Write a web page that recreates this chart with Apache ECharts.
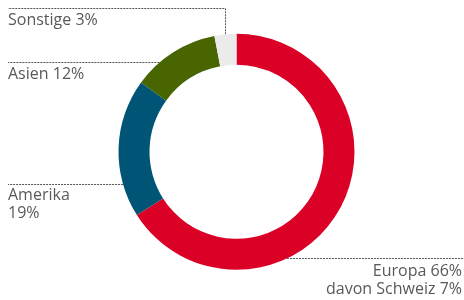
<!DOCTYPE html>
<html>
<head>
<meta charset="utf-8"/>
<title>Umsatz nach Regionen</title>
<script src="https://cdn.jsdelivr.net/npm/echarts@6/dist/echarts.min.js"></script>
<style>
  html, body { margin: 0; padding: 0; background: #fff; }
  #container { width: 464px; height: 300px; }
</style>
</head>
<body>
<div id="container"></div>
<script type="text/javascript">
    // Daten
    var regions = ['Europa', 'Amerika', 'Asien', 'Sonstige'];
    var shares = [66, 19, 12, 3];
    var notes = ['davon Schweiz 7%', '', '', ''];
    var colors = ['#da0026', '#005577', '#496500', '#ebebeb'];

    // Ring-Geometrie
    var CX = 236.5, CY = 151.8, R_IN = 87, R_OUT = 118;

    // Position der Beschriftungen und Führungslinien
    var anchors = {
        'Europa':   { textX: 462, textY: 262, align: 'right', lineY: 258.5, lineEnd: 464, side: 1 },
        'Amerika':  { textX: 8, textY: 186, align: 'left', lineY: 184.5, lineEnd: 8, side: -1 },
        'Asien':    { textX: 8, textY: 65.8, align: 'left', lineY: 62.5, lineEnd: 8, side: -1 },
        'Sonstige': { textX: 8, textY: 11.3, align: 'left', lineY: 8.5, lineEnd: 8, elbow: true }
    };

    var total = 0;
    for (var i = 0; i < shares.length; i++) total += shares[i];

    // mittlerer Winkel eines Segments (im Uhrzeigersinn ab 12 Uhr)
    function midAngle(idx) {
        var before = 0;
        for (var i = 0; i < idx; i++) before += shares[i];
        return (before + shares[idx] / 2) / total * Math.PI * 2;
    }

    var seriesData = [];
    for (var i = 0; i < regions.length; i++) {
        seriesData.push({
            name: regions[i],
            value: shares[i],
            itemStyle: { color: colors[i] }
        });
    }

    var myChart = echarts.init(document.getElementById('container'));

    var option = {
        animation: false,
        series: [{
            type: 'pie',
            center: [CX, CY],
            radius: [R_IN, R_OUT],
            startAngle: 90,
            clockwise: true,
            avoidLabelOverlap: false,
            label: {
                show: true,
                position: 'outside',
                color: '#595959',
                fontFamily: 'Open Sans',
                fontSize: 16,
                lineHeight: 18,
                formatter: function (p) {
                    var i = p.dataIndex;
                    if (regions[i] === 'Amerika') return regions[i] + '\n' + shares[i] + '%';
                    var s = regions[i] + ' ' + shares[i] + '%';
                    if (notes[i]) s += '\n' + notes[i];
                    return s;
                }
            },
            labelLine: {
                show: true,
                length: 10,
                length2: 10,
                lineStyle: { color: '#555', width: 1, type: [2, 1] }
            },
            labelLayout: function (p) {
                var a = anchors[regions[p.dataIndex]];
                var pts;
                if (a.elbow) {
                    var ang = midAngle(p.dataIndex);
                    var sx = CX + R_OUT * Math.sin(ang);
                    var sy = CY - R_OUT * Math.cos(ang);
                    sx = Math.round(sx) + 0.5;
                    pts = [[sx, sy], [sx, a.lineY], [a.lineEnd, a.lineY]];
                } else {
                    var dy = a.lineY - CY;
                    var ex = CX + a.side * Math.sqrt(R_OUT * R_OUT - dy * dy);
                    pts = [[ex, a.lineY], [ex, a.lineY], [a.lineEnd, a.lineY]];
                }
                return {
                    x: a.textX,
                    y: a.textY,
                    align: a.align,
                    verticalAlign: 'top',
                    labelLinePoints: pts
                };
            },
            emphasis: { disabled: true },
            data: seriesData
        }]
    };

    myChart.setOption(option);
    window.onresize = myChart.resize;
</script>
</body>
</html>
